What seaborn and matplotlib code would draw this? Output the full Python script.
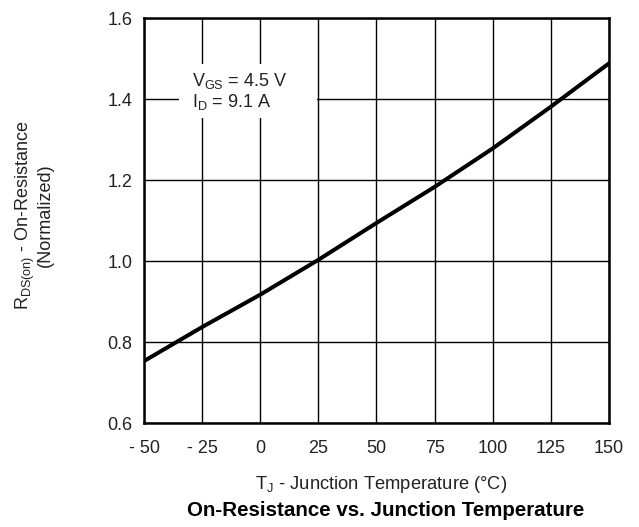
import matplotlib
matplotlib.use("Agg")
import matplotlib.pyplot as plt
from matplotlib.patches import Rectangle
import pandas as pd
import seaborn as sns

# data
temp = [-50, -25, 0, 25, 50, 75, 100, 125, 150]
rds_norm = [0.753, 0.837, 0.917, 1.003, 1.094, 1.183, 1.278, 1.381, 1.488]
x_ticks = [-50, -25, 0, 25, 50, 75, 100, 125, 150]
x_labels = ["- 50", "- 25", "0", "25", "50", "75", "100", "125", "150"]
y_ticks = [0.6, 0.8, 1.0, 1.2, 1.4, 1.6]

df = pd.DataFrame({"T": temp, "R": rds_norm})

sns.set_style("white")
plt.rcParams["font.family"] = ["Liberation Sans", "DejaVu Sans"]
plt.rcParams["mathtext.fontset"] = "custom"
plt.rcParams["mathtext.rm"] = "Liberation Sans"

fig, ax = plt.subplots(figsize=(6.39, 5.27), dpi=100)
fig.subplots_adjust(left=0.2254, right=0.953, bottom=0.1973, top=0.9658)

sns.lineplot(data=df, x="T", y="R", ax=ax, color="black", linewidth=2.9, zorder=4)

ax.set_xlim(-50, 150)
ax.set_ylim(0.6, 1.6)
ax.set_xticks(x_ticks)
ax.set_xticklabels(x_labels)
ax.set_yticks(y_ticks)
ax.set_yticklabels([f"{v:.1f}" for v in y_ticks])
ax.tick_params(axis="both", length=0, labelsize=13, colors="#222222")
ax.tick_params(axis="x", pad=12)
ax.tick_params(axis="y", pad=8.5)
ax.grid(True, color="black", linewidth=1.0)
ax.set_axisbelow(True)
for s in ax.spines.values():
    s.set_linewidth(1.8)
    s.set_color("black")

ax.set_xlabel("")
ax.set_ylabel("")

# white box behind the condition note
ax.add_patch(Rectangle((-35, 1.352), 59.3, 0.135, facecolor="white",
                       edgecolor="none", zorder=2))
ax.text(-29.3, 1.444, "V$_{\\mathrm{GS}}$ = 4.5 V", fontsize=13,
        va="center", ha="left", color="#222222", zorder=3)
ax.text(-29.3, 1.393, "I$_{\\mathrm{D}}$ = 9.1 A", fontsize=13,
        va="center", ha="left", color="#222222", zorder=3)

fig.text(0.053, 0.592, "R$_{\\mathrm{DS(on)}}$ - On-Resistance\n(Normalized)", rotation=90,
         ha="center", va="center", fontsize=13, color="#222222", linespacing=1.0)
fig.text(0.596, 0.080, "T$_{\\mathrm{J}}$ - Junction Temperature (°C)", ha="center",
         va="center", fontsize=13.2, color="#222222")
fig.text(0.604, 0.032, "On-Resistance vs. Junction Temperature", ha="center",
         va="center", fontsize=14.8, fontweight="bold", color="black")

fig.savefig("out.png", dpi=100)
